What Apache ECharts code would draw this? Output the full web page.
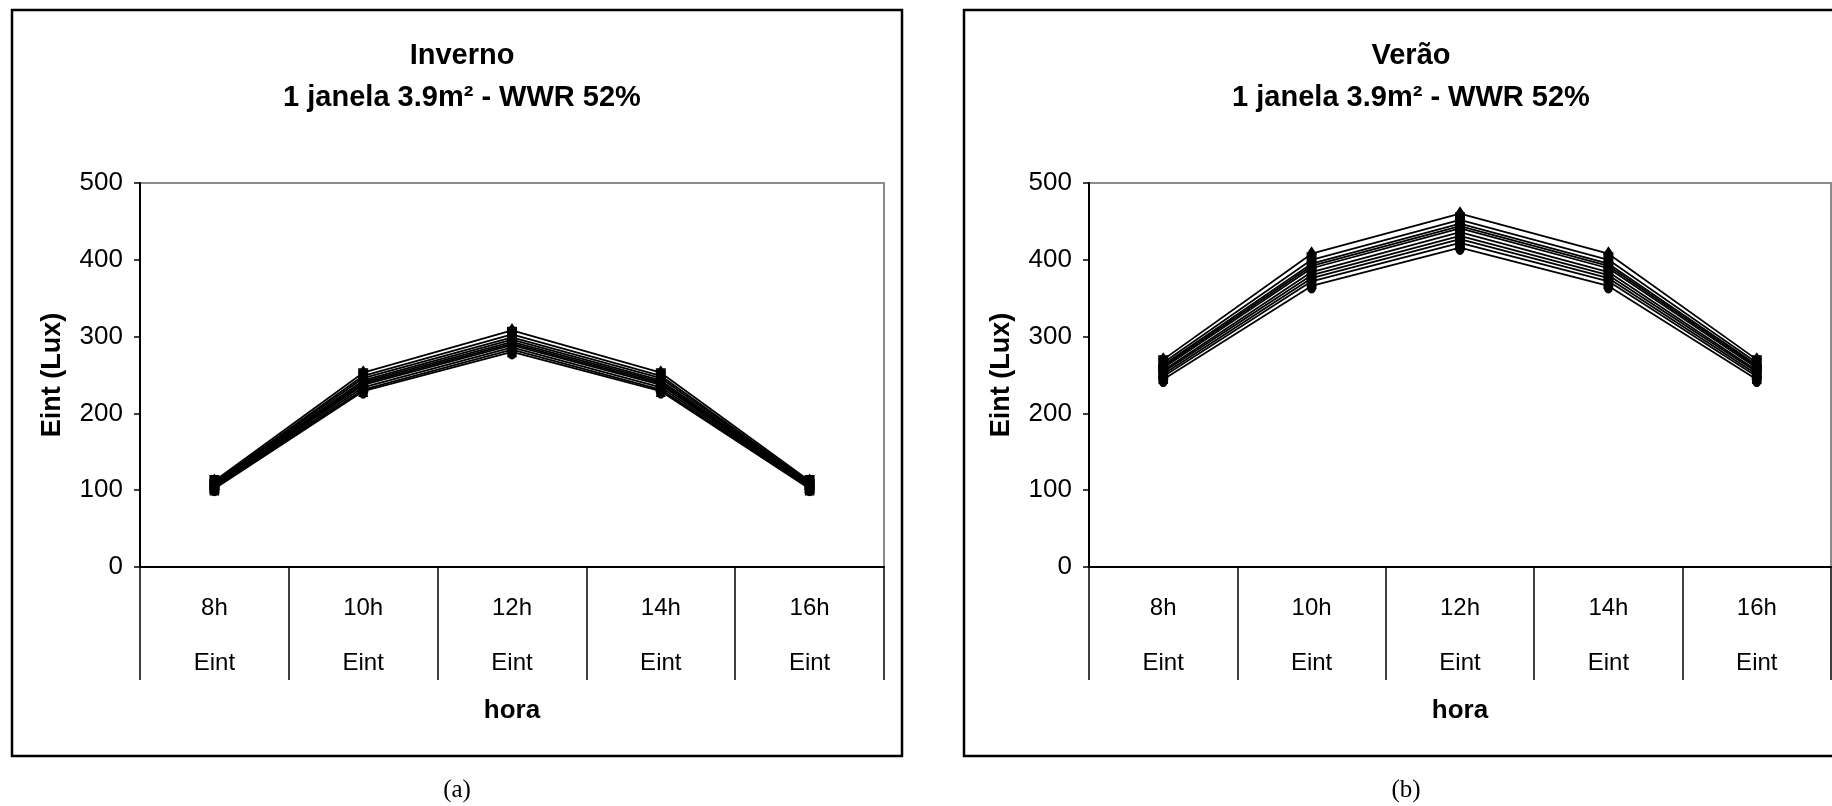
<!DOCTYPE html>
<html>
<head>
<meta charset="utf-8">
<script src="https://cdn.jsdelivr.net/npm/echarts@6/dist/echarts.min.js"></script>
<style>
  html, body { margin: 0; padding: 0; background: #fff; }
  #chart { width: 1832px; height: 806px; }
</style>
</head>
<body>
<div id="chart"></div>
<script>
// horas do dia
const categories = ['8h', '10h', '12h', '14h', '16h'];
const yTicks = [0, 100, 200, 300, 400, 500];

// Inverno - Eint (Lux), uma linha por caso
const inverno = [
    [112, 253, 308, 253, 112],
    [110, 249, 303, 249, 110],
    [109, 246, 299, 246, 109],
    [108, 243, 296, 243, 108],
    [107, 241, 293, 241, 107],
    [106, 239, 291, 239, 106],
    [105, 237, 289, 237, 105],
    [104, 234, 286, 234, 104],
    [103, 231, 283, 231, 103],
    [102, 229, 280, 229, 102]
];

// Verão - Eint (Lux)
const verao = [
    [270, 408, 460, 408, 270],
    [266, 400, 452, 400, 266],
    [263, 395, 447, 395, 263],
    [261, 392, 444, 392, 261],
    [259, 389, 441, 389, 259],
    [256, 384, 436, 384, 256],
    [254, 380, 431, 380, 254],
    [251, 376, 427, 376, 251],
    [248, 372, 422, 372, 248],
    [244, 366, 416, 366, 244]
];

const markers = ['diamond', 'rect', 'triangle', 'diamond', 'circle', 'triangle', 'rect', 'diamond', 'triangle', 'circle'];

const font = 'Liberation Sans, Arial, sans-serif';

const panels = [
    { name: 'Inverno', tag: '(a)', data: inverno, box: 12, grid: 140, width: 744, center: 457 },
    { name: 'Verão', tag: '(b)', data: verao, box: 964, grid: 1089, width: 742, center: 1406 }
];

const makeX = (i) => ({
    type: 'category',
    gridIndex: i,
    data: categories,
    boundaryGap: true,
    name: 'hora',
    nameLocation: 'middle',
    nameGap: 131,
    nameTextStyle: { fontFamily: font, fontSize: 26, fontWeight: 'bold', color: '#000' },
    axisLine: { show: true, lineStyle: { color: '#000', width: 2 } },
    axisTick: { show: true, interval: 0, inside: false, length: 113, alignWithLabel: false, lineStyle: { color: '#000', width: 1.5 } },
    axisLabel: {
        interval: 0,
        margin: 14,
        lineHeight: 55,
        fontFamily: font,
        fontSize: 24,
        color: '#000',
        formatter: (v) => v + '\nEint'
    }
});

const makeY = (i) => ({
    type: 'value',
    gridIndex: i,
    min: yTicks[0],
    max: yTicks[yTicks.length - 1],
    interval: 100,
    name: 'Eint (Lux)',
    nameLocation: 'middle',
    nameGap: 74,
    nameTextStyle: { fontFamily: font, fontSize: 27, fontWeight: 'bold', color: '#000' },
    axisLine: { show: true, lineStyle: { color: '#000', width: 2 } },
    axisTick: { show: true, length: 6, lineStyle: { color: '#000', width: 1.5 } },
    axisLabel: { margin: 17, fontFamily: font, fontSize: 26, color: '#000' },
    splitLine: { show: false }
});

const series = [];
panels.forEach((p, i) => {
    p.data.forEach((vals, k) => {
        series.push({
            type: 'line',
            xAxisIndex: i,
            yAxisIndex: i,
            data: vals,
            symbol: markers[k],
            symbolSize: [10, 15],
            showSymbol: true,
            lineStyle: { color: '#000', width: 1.8 },
            itemStyle: { color: '#000' }
        });
    });
});

const chart = echarts.init(document.getElementById('chart'));
chart.setOption({
    backgroundColor: '#fff',
    animation: false,
    title: panels.map((p) => ({
        text: p.name + '\n1 janela 3.9m² - WWR 52%',
        left: p.center,
        top: 30,
        textAlign: 'center',
        textStyle: { fontFamily: font, fontSize: 29, fontWeight: 'bold', color: '#000', lineHeight: 42 }
    })),
    grid: panels.map((p) => ({
        left: p.grid,
        top: 183,
        width: p.width,
        height: 384,
        show: true,
        borderColor: '#8c8c8c',
        borderWidth: 2,
        backgroundColor: '#fff'
    })),
    xAxis: panels.map((p, i) => makeX(i)),
    yAxis: panels.map((p, i) => makeY(i)),
    graphic: panels.flatMap((p) => [
        {
            type: 'rect',
            z: -10,
            shape: { x: p.box, y: 10, width: 890, height: 746 },
            style: { fill: 'none', stroke: '#000', lineWidth: 2.5 }
        },
        {
            type: 'text',
            x: p.center,
            y: 790,
            style: {
                text: p.tag,
                fontFamily: 'Liberation Serif, Times New Roman, serif',
                fontSize: 25,
                fill: '#000',
                align: 'center',
                verticalAlign: 'middle'
            }
        }
    ]),
    series: series
});
</script>
</body>
</html>
